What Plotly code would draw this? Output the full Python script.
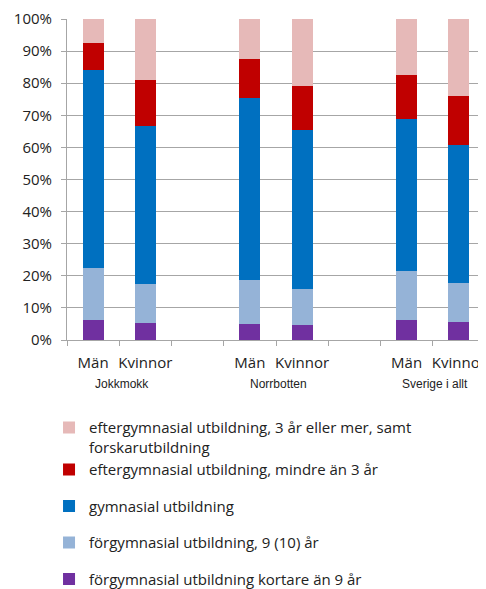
import plotly.graph_objects as go

# category slots (blank slots separate the three regions)
slots = ["m_j", "k_j", "gap1", "m_n", "k_n", "gap2", "m_s", "k_s"]
slot_labels = ["Män", "Kvinnor", "", "Män", "Kvinnor", "", "Män", "Kvinnor"]
groups = ["Jokkmokk", "Norrbotten", "Sverige i allt"]

# shares in percent, bottom to top of each bar (None for the empty slots)
kortare_9 = [6.2, 5.3, None, 5.1, 4.6, None, 6.1, 5.5]
forgymn_9 = [16.3, 12.0, None, 13.6, 11.2, None, 15.5, 12.3]
gymnasial = [61.7, 49.4, None, 56.8, 49.6, None, 47.2, 43.1]
efter_lt3 = [8.3, 14.3, None, 12.0, 13.8, None, 13.7, 15.0]
efter_3plus = [7.5, 19.0, None, 12.5, 20.8, None, 17.5, 24.1]

# (name, values, colour, legend group, legend rank)
series = [
    ("förgymnasial utbildning kortare än 9 år", kortare_9, "#7030A0", "d", 5),
    ("förgymnasial utbildning, 9 (10) år", forgymn_9, "#95B3D7", "c", 4),
    ("gymnasial utbildning", gymnasial, "#0070C0", "b", 3),
    ("eftergymnasial utbildning, mindre än 3 år", efter_lt3, "#C00000", "a", 2),
    ("eftergymnasial utbildning, 3 år eller mer, samt<br>forskarutbildning",
     efter_3plus, "#E6B9B8", "a", 1),
]

font = "'Open Sans', sans-serif"

fig = go.Figure()
for name, vals, color, grp, rank in series:
    fig.add_trace(go.Bar(
        x=slots,
        y=vals,
        name=name,
        marker=dict(color=color, line=dict(width=0)),
        width=0.4,
        legendgroup=grp,
        legendrank=rank,
    ))

# region names under the Män/Kvinnor labels
for i, g in enumerate(groups):
    fig.add_annotation(
        x=3 * i + 0.55, y=0, xref="x", yref="paper",
        yanchor="middle", yshift=-44, text=g, showarrow=False,
        font=dict(family="'Liberation Sans', Arial, sans-serif", size=12, color="#222"),
    )

# page body keeps its 8px default margin, so the figure is 8px smaller
fig.update_layout(
    barmode="stack",
    width=478,
    height=581,
    margin=dict(l=59, r=1, t=11, b=249, autoexpand=False),
    paper_bgcolor="white",
    plot_bgcolor="white",
    font=dict(family=font, size=15, color="#222"),
    showlegend=True,
    legend=dict(
        orientation="v",
        x=-0.043, xanchor="left",
        y=-0.222, yanchor="top",
        traceorder="grouped",
        tracegroupgap=14,
        valign="top",
        font=dict(family=font, size=15, color="#222"),
        itemwidth=30,
    ),
    xaxis=dict(
        type="category",
        categoryorder="array",
        categoryarray=slots,
        tickmode="array",
        tickvals=slots,
        ticktext=slot_labels,
        tickson="boundaries",
        tickangle=0,
        ticks="outside",
        ticklen=5,
        tickcolor="#A6A6A6",
        ticklabelstandoff=9,
        showline=True,
        linecolor="#A6A6A6",
        showgrid=False,
        automargin=False,
        fixedrange=True,
    ),
    yaxis=dict(
        range=[0, 100],
        dtick=10,
        ticksuffix="%",
        ticks="outside",
        ticklen=5,
        tickcolor="#A6A6A6",
        ticklabelstandoff=6,
        showline=True,
        linecolor="#A6A6A6",
        showgrid=True,
        gridcolor="#A6A6A6",
        gridwidth=1,
        zeroline=False,
        automargin=False,
        fixedrange=True,
    ),
)

fig.write_html("out.html")
